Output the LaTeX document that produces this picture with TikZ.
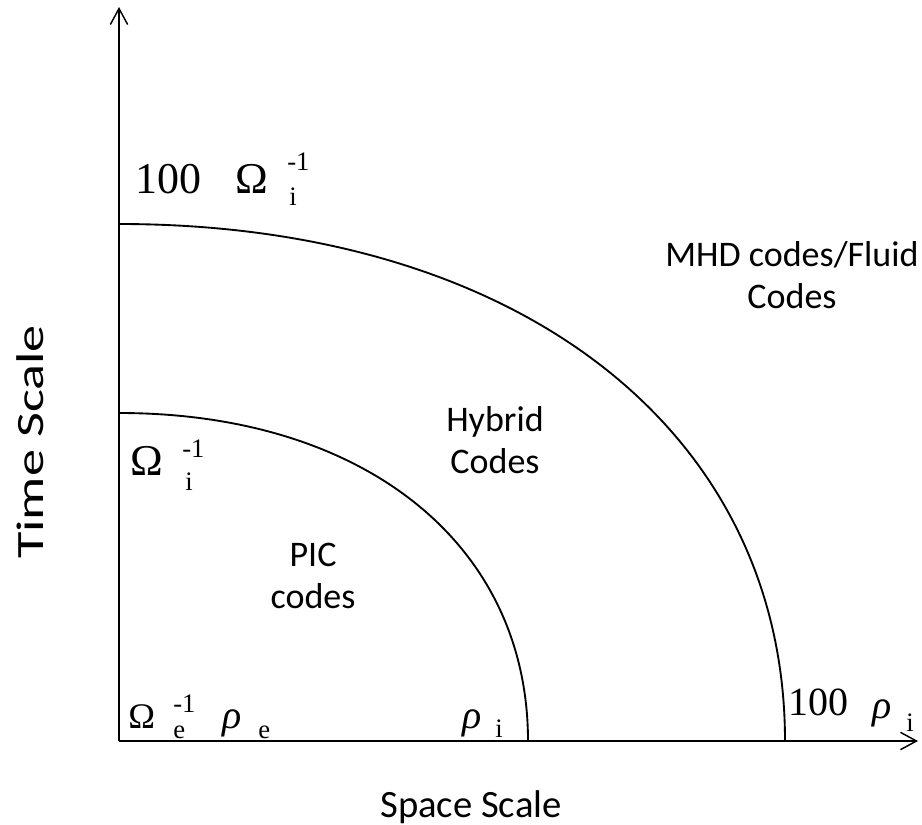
\documentclass[tikz,border=0pt]{standalone}
\usepackage{fontspec}
\setmainfont{Liberation Serif}
\newfontfamily\calfont{Carlito}
\usetikzlibrary{arrows.meta}
\begin{document}
\begin{tikzpicture}[x=0.75pt,y=-0.75pt,
  axis/.style={line width=1.3pt,-{Straight Barb[length=12pt,width=13pt,line width=1.1pt]}},
  curve/.style={line width=1.4pt},
  big/.style={inner sep=0pt,anchor=base west,font=\fontsize{33}{33}\selectfont},
  mid/.style={inner sep=0pt,anchor=base west,font=\fontsize{27}{27}\selectfont},
  small/.style={inner sep=0pt,anchor=base west,font=\fontsize{20}{20}\selectfont},
  region/.style={inner sep=0pt,align=center,font=\calfont\fontsize{27}{31}\selectfont},
  title/.style={inner sep=0pt,font=\calfont\fontsize{29}{29}\selectfont}]
\useasboundingbox (0,0) rectangle (922,825);
\coordinate (O) at (119,741);
\coordinate (ytip) at (119,7);
\coordinate (xtip) at (918,741);
\coordinate (i1) at (119,413);
\coordinate (i2) at (528,741);
\coordinate (o1) at (119,224);
\coordinate (o2) at (785,741);
\draw[axis] (O) -- (ytip);
\draw[axis] (O) -- (xtip);
\draw[curve] (i1) .. controls (364,413) and (528,544) .. (i2);
\draw[curve] (o1) .. controls (519,224) and (785,431) .. (o2);
% top label
\node[big] (t100) at (135,193) {100};
\node[big] (tom) at (235,193) {Ω};
\node[small] (tsup) at (287,170) {-1};
\node[small] (tsub) at (289,205) {i};
% middle label
\node[big] (mom) at (130,475) {Ω};
\node[small] (msup) at (182,457) {-1};
\node[small] (msub) at (185,490) {i};
% bottom left
\node[mid] (bom) at (128,728) {Ω};
\node[small] (bsup) at (173,712) {-1};
\node[small] (bsub) at (173,738) {e};
\node[mid,font=\fontsize{30}{30}\selectfont\itshape] (brho) at (222,728) {ρ};
\node[small] (brs) at (258,738) {e};
% rho_i
\node[mid,font=\fontsize{30}{30}\selectfont\itshape] (rho) at (462,728) {ρ};
\node[small] (rhos) at (495,737) {i};
% 100 rho_i
\node[mid,font=\fontsize{30}{30}\selectfont] (r100) at (788,715) {100};
\node[mid,font=\fontsize{30}{30}\selectfont\itshape] (rrho) at (872,718) {ρ};
\node[small] (rrs) at (906,731) {i};
% regions
\node[region] (pic) at (313,576) {PIC\\codes};
\node[region] (hyb) at (495,440) {Hybrid\\Codes};
\node[region] (mhd) at (792,275) {MHD codes/Fluid\\Codes};
% titles
\node[title,anchor=base] (xs) at (471,817) {Space Scale};
\node[title,rotate=90] (ts) at (30,442) {\scalebox{1.4}[1]{Time Scale}};
\end{tikzpicture}
\end{document}
